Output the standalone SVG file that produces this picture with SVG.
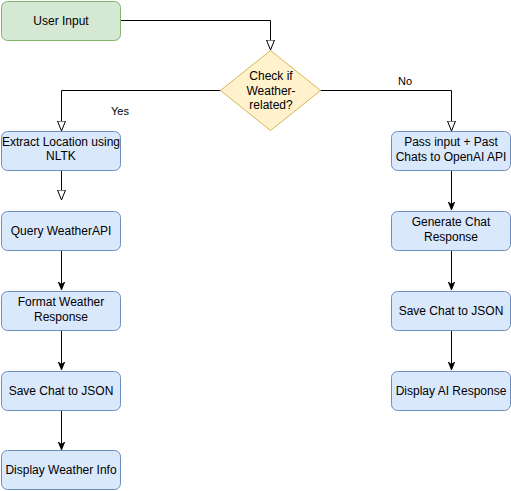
<svg xmlns="http://www.w3.org/2000/svg" width="511" height="491" viewBox="0 0 511 491">
<style>
text{font-family:"Liberation Sans",Arial,sans-serif;font-size:12px;fill:#000;text-anchor:middle}
.b{fill:#dae8fc;stroke:#6c8ebf;stroke-width:1}
.g{fill:#d5e8d4;stroke:#82b366;stroke-width:1}
.d{fill:#fff2cc;stroke:#d6b656;stroke-width:1}
.e{fill:none;stroke:#000;stroke-width:1}
.lbl{font-size:11px}
</style>
<defs>
<marker id="open" viewBox="0 0 10 10" refX="10" refY="5" markerWidth="10" markerHeight="10" markerUnits="userSpaceOnUse" orient="auto"><path d="M0,1 L10,5 L0,9 Z" fill="#fff" stroke="#000" stroke-width="1"/></marker>
<marker id="fill" viewBox="0 0 10 10" refX="10" refY="5" markerWidth="8" markerHeight="8" markerUnits="userSpaceOnUse" orient="auto"><path d="M0,1 L10,5 L0,9 L3,5 Z" fill="#000" stroke="#000" stroke-width="1"/></marker>
</defs>
<g id="connectors">
<path class="e" d="M121,20.5 H270.5 V50" marker-end="url(#open)"/>
<path class="e" d="M221,90.5 H61.5 V131" marker-end="url(#open)"/>
<path class="e" d="M320,90.5 H451.5 V131" marker-end="url(#open)"/>
<path class="e" d="M61.5,171 V200" marker-end="url(#open)"/>
<path class="e" d="M61.5,251 V290" marker-end="url(#fill)"/>
<path class="e" d="M61.5,331 V370" marker-end="url(#fill)"/>
<path class="e" d="M61.5,411 V450" marker-end="url(#fill)"/>
<path class="e" d="M451.5,171 V210" marker-end="url(#fill)"/>
<path class="e" d="M451.5,251 V290" marker-end="url(#fill)"/>
<path class="e" d="M451.5,331 V370" marker-end="url(#fill)"/>
<text class="lbl" x="120" y="115">Yes</text>
<text class="lbl" x="405" y="85">No</text>
</g>
<g id="user-input"><rect class="g" x="1.5" y="1.5" width="119" height="39" rx="6"/><text x="61" y="25">User Input</text></g>
<g id="check-weather"><path class="d" d="M270.5,50.5 L320.5,90.5 L270.5,130.5 L220.5,90.5 Z"/><text x="271" y="80">Check if</text><text x="271" y="95">Weather-</text><text x="271" y="109">related?</text></g>
<g id="extract-location"><rect class="b" x="1.5" y="131.5" width="119" height="39" rx="6"/><text x="61" y="146">Extract Location using</text><text x="61" y="160">NLTK</text></g>
<g id="query-weather"><rect class="b" x="1.5" y="211.5" width="119" height="39" rx="6"/><text x="61" y="235">Query WeatherAPI</text></g>
<g id="format-weather"><rect class="b" x="1.5" y="291.5" width="119" height="39" rx="6"/><text x="61" y="306">Format Weather</text><text x="61" y="321">Response</text></g>
<g id="save-left"><rect class="b" x="1.5" y="371.5" width="119" height="39" rx="6"/><text x="61" y="395">Save Chat to JSON</text></g>
<g id="display-weather"><rect class="b" x="1.5" y="450.5" width="119" height="39" rx="6"/><text x="61" y="474">Display Weather Info</text></g>
<g id="pass-input"><rect class="b" x="391.5" y="131.5" width="119" height="39" rx="6"/><text x="451" y="146">Pass input + Past</text><text x="451" y="161">Chats to OpenAI API</text></g>
<g id="generate-chat"><rect class="b" x="391.5" y="211.5" width="119" height="39" rx="6"/><text x="451" y="226">Generate Chat</text><text x="451" y="241">Response</text></g>
<g id="save-right"><rect class="b" x="391.5" y="291.5" width="119" height="39" rx="6"/><text x="451" y="315">Save Chat to JSON</text></g>
<g id="display-ai"><rect class="b" x="391.5" y="371.5" width="119" height="39" rx="6"/><text x="451" y="395">Display AI Response</text></g>
</svg>
